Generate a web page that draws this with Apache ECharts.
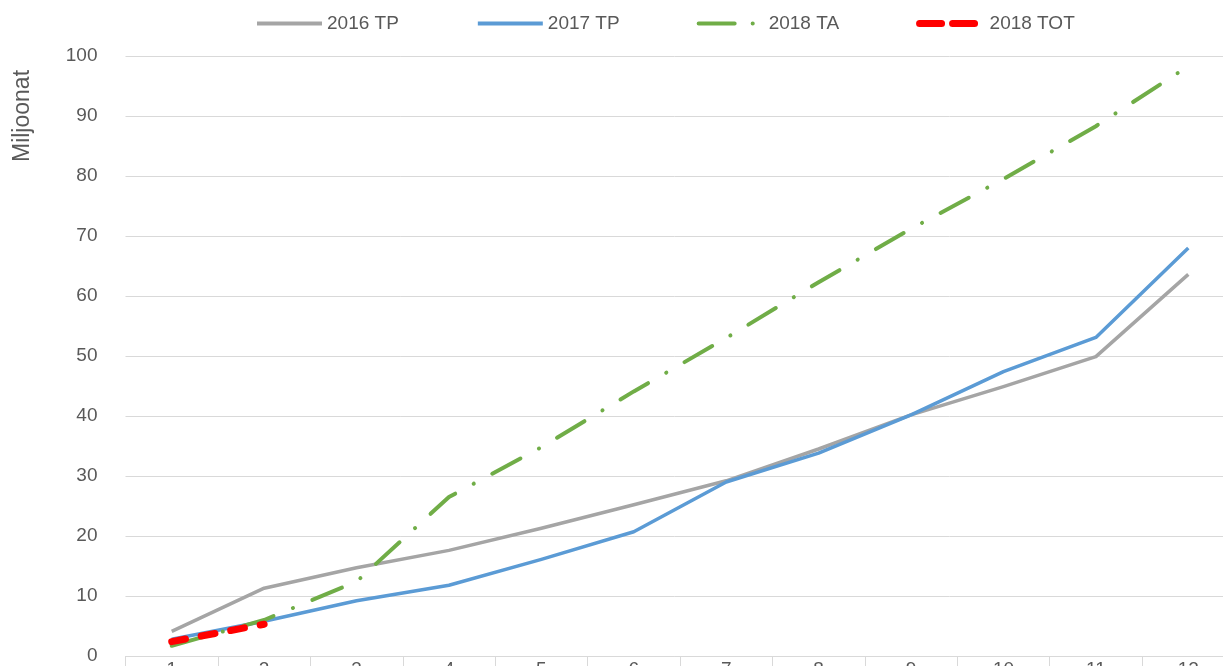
<!DOCTYPE html>
<html>
<head>
<meta charset="utf-8">
<script src="https://cdn.jsdelivr.net/npm/echarts/dist/echarts.min.js"></script>
<style>
    html, body {margin: 0; padding: 0; background: #fff;}
    #main {width: 1223px; height: 666px;}
</style>
</head>
<body>
<div id="main"></div>
<script>
// kuukaudet 1-12
const months = ['1', '2', '3', '4', '5', '6', '7', '8', '9', '10', '11', '12'];
const tp2016 = [4.1, 11.3, 14.7, 17.6, 21.3, 25.2, 29.2, 34.5, 40.2, 44.9, 49.9, 63.6];
const tp2017 = [2.8, 5.8, 9.2, 11.8, 16.1, 20.7, 29.0, 33.8, 40.2, 47.4, 53.1, 68.0];
const ta2018 = [1.7, 6.0, 12.4, 26.5, 34.8, 44.1, 53.0, 62.3, 71.2, 79.5, 88.3, 98.3];
const tot2018 = [2.4, 5.3];
const yTicks = {min: 0, max: 100, step: 10};

const font = 'Liberation Sans';
const textColor = '#595959';
const gridColor = '#d9d9d9';

const option = {
    animation: false,
    textStyle: {fontFamily: font},
    legend: {
        left: 250,
        top: 9,
        itemWidth: 65,
        itemHeight: 18,
        itemGap: 77,
        itemStyle: {opacity: 0},
        textStyle: {fontSize: 19, color: textColor, fontFamily: font},
        data: [
            {name: '2016 TP', lineStyle: {width: 4}},
            {name: '2017 TP', lineStyle: {width: 4}},
            {name: '2018 TA', lineStyle: {width: 4, type: [36, 18, 0.1, 30], cap: 'round'}},
            {name: '2018 TOT', lineStyle: {width: 7, type: [22, 11, 22, 100], cap: 'round'}}
        ]
    },
    grid: {
        left: 125.5,
        top: 56,
        width: 1109,
        height: 600,
        outerBoundsMode: 'none'
    },
    graphic: [{
        type: 'text',
        x: 23,
        y: 116,
        rotation: Math.PI / 2,
        style: {
            text: 'Miljoonat',
            fontSize: 23,
            fontFamily: font,
            fill: textColor,
            align: 'center',
            verticalAlign: 'middle'
        }
    }],
    xAxis: {
        type: 'category',
        data: months,
        boundaryGap: true,
        axisLine: {lineStyle: {color: gridColor, width: 1}},
        axisTick: {show: true, length: 12, lineStyle: {color: gridColor}},
        axisLabel: {fontSize: 19, color: textColor, margin: 4, interval: 0}
    },
    yAxis: {
        type: 'value',
        min: yTicks.min,
        max: yTicks.max,
        interval: yTicks.step,
        axisLine: {show: false},
        axisTick: {show: false},
        axisLabel: {fontSize: 19, color: textColor, margin: 28},
        splitLine: {lineStyle: {color: gridColor, width: 1}}
    },
    series: [
        {
            name: '2016 TP',
            type: 'line',
            data: tp2016,
            symbol: 'none',
            color: '#a5a5a5',
            lineStyle: {width: 3.5, color: '#a5a5a5', join: 'round'}
        },
        {
            name: '2017 TP',
            type: 'line',
            data: tp2017,
            symbol: 'none',
            color: '#5b9bd5',
            lineStyle: {width: 3.5, color: '#5b9bd5', join: 'round'}
        },
        {
            name: '2018 TA',
            type: 'line',
            data: ta2018,
            symbol: 'none',
            color: '#70ad47',
            lineStyle: {width: 4, color: '#70ad47', type: [32, 21, 0.1, 21], cap: 'round'}
        },
        {
            name: '2018 TOT',
            type: 'line',
            data: tot2018,
            symbol: 'none',
            color: '#ff0000',
            lineStyle: {width: 7, color: '#ff0000', type: [14, 16], cap: 'round'}
        }
    ]
};

let chartDom = document.getElementById('main');
let chart = echarts.init(chartDom);
chart.setOption(option);
</script>
</body>
</html>
